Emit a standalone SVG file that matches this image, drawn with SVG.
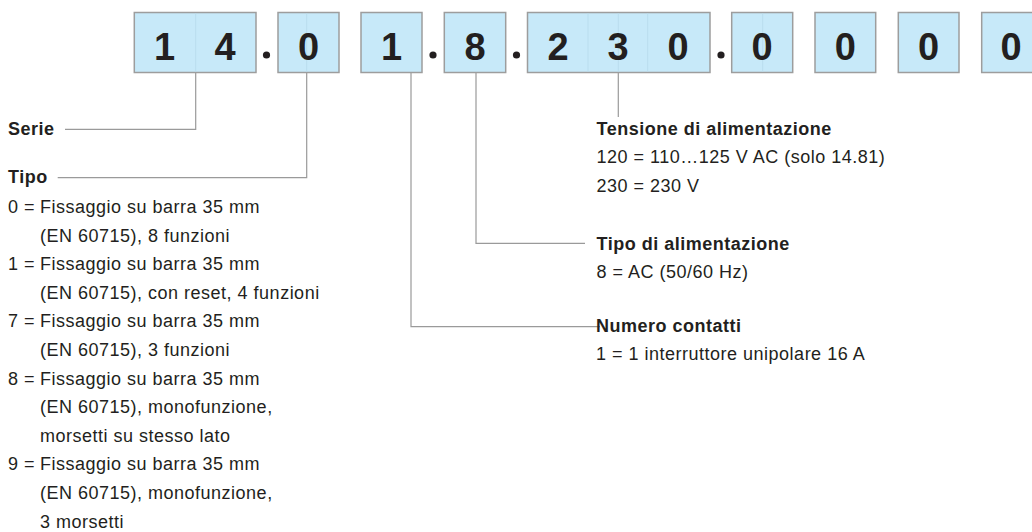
<svg xmlns="http://www.w3.org/2000/svg" width="1032" height="532" viewBox="0 0 1032 532">
<style>
.box{fill:#c7e9f9;stroke:#9d9d9d;stroke-width:1.5}
.guide{stroke:#b9ddee;stroke-width:1}
.dig{font-family:"Liberation Sans",Arial,sans-serif;font-weight:bold;font-size:38px;fill:#231f20;text-anchor:middle}
.dot{fill:#231f20}
.con{fill:none;stroke:#9a9a9a;stroke-width:1.2}
.t{font-family:"Liberation Sans",Arial,sans-serif;font-size:18px;fill:#231f20;letter-spacing:0.5px}
.b{font-weight:bold}
</style>
<rect width="1032" height="532" fill="#ffffff"/>
<g id="connectors">
<path class="con" d="M195.7 73 V129.3 H65"/>
<path class="con" d="M306.7 73 V177.7 H57.7"/>
<path class="con" d="M411 73 V326.7 H600"/>
<path class="con" d="M476 73 V243.3 H585"/>
<path class="con" d="M618.3 73 V117"/>
</g>
<g id="code">
<g id="box-serie"><rect class="box" x="134.3" y="12.5" width="121.7" height="60"/><line class="guide" x1="195.7" y1="13.5" x2="195.7" y2="71.5"/><text class="dig" x="164.5" y="59.5">1</text><text class="dig" x="225" y="59.5">4</text></g>
<circle class="dot" cx="266.5" cy="55" r="3.6"/>
<g id="box-tipo"><rect class="box" x="278" y="12.5" width="61" height="60"/><line class="guide" x1="306.7" y1="13.5" x2="306.7" y2="71.5"/><text class="dig" x="308.5" y="59.5">0</text></g>
<g id="box-contatti"><rect class="box" x="361" y="12.5" width="61" height="60"/><text class="dig" x="391.5" y="59.5">1</text></g>
<circle class="dot" cx="433" cy="55" r="3.6"/>
<g id="box-alim"><rect class="box" x="444.3" y="12.5" width="61.4" height="60"/><text class="dig" x="475" y="59.5">8</text></g>
<circle class="dot" cx="516.5" cy="55" r="3.6"/>
<g id="box-tensione"><rect class="box" x="527.5" y="12.5" width="182.5" height="60"/><line class="guide" x1="588" y1="13.5" x2="588" y2="71.5"/><line class="guide" x1="618.3" y1="13.5" x2="618.3" y2="71.5"/><line class="guide" x1="647.7" y1="13.5" x2="647.7" y2="71.5"/><text class="dig" x="558" y="59.5">2</text><text class="dig" x="618" y="59.5">3</text><text class="dig" x="678" y="59.5">0</text></g>
<circle class="dot" cx="721" cy="55" r="3.6"/>
<g id="box-6"><rect class="box" x="731.7" y="12.5" width="61" height="60"/><line class="guide" x1="762.7" y1="13.5" x2="762.7" y2="71.5"/><text class="dig" x="762" y="59.5">0</text></g>
<g id="box-7"><rect class="box" x="815" y="12.5" width="60.7" height="60"/><text class="dig" x="845.3" y="59.5">0</text></g>
<g id="box-8"><rect class="box" x="898.3" y="12.5" width="60.7" height="60"/><text class="dig" x="928.5" y="59.5">0</text></g>
<g id="box-9"><rect class="box" x="981.7" y="12.5" width="61" height="60"/><text class="dig" x="1011" y="59.5">0</text></g>
</g>
<g id="label-serie"><text class="t b" x="8" y="135">Serie</text></g>
<g id="label-tipo">
<text class="t b" x="8" y="183">Tipo</text>
<text class="t" x="8" y="213">0 =</text><text class="t" x="40" y="213">Fissaggio su barra 35 mm</text>
<text class="t" x="40" y="241.6">(EN 60715), 8 funzioni</text>
<text class="t" x="8" y="270.2">1 =</text><text class="t" x="40" y="270.2">Fissaggio su barra 35 mm</text>
<text class="t" x="40" y="298.8">(EN 60715), con reset, 4 funzioni</text>
<text class="t" x="8" y="327.4">7 =</text><text class="t" x="40" y="327.4">Fissaggio su barra 35 mm</text>
<text class="t" x="40" y="356">(EN 60715), 3 funzioni</text>
<text class="t" x="8" y="384.6">8 =</text><text class="t" x="40" y="384.6">Fissaggio su barra 35 mm</text>
<text class="t" x="40" y="413.2">(EN 60715), monofunzione,</text>
<text class="t" x="40" y="441.8">morsetti su stesso lato</text>
<text class="t" x="8" y="470.4">9 =</text><text class="t" x="40" y="470.4">Fissaggio su barra 35 mm</text>
<text class="t" x="40" y="499">(EN 60715), monofunzione,</text>
<text class="t" x="40" y="527.6">3 morsetti</text>
</g>
<g id="label-tensione">
<text class="t b" x="596.5" y="135">Tensione di alimentazione</text>
<text class="t" x="596.5" y="163.3">120 = 110…125 V AC (solo 14.81)</text>
<text class="t" x="596.5" y="191.7">230 = 230 V</text>
</g>
<g id="label-alim">
<text class="t b" x="596.5" y="250">Tipo di alimentazione</text>
<text class="t" x="596.5" y="278.3">8 = AC (50/60 Hz)</text>
</g>
<g id="label-contatti">
<text class="t b" x="596" y="331.7">Numero contatti</text>
<text class="t" x="596" y="360">1 = 1 interruttore unipolare 16 A</text>
</g>
</svg>
